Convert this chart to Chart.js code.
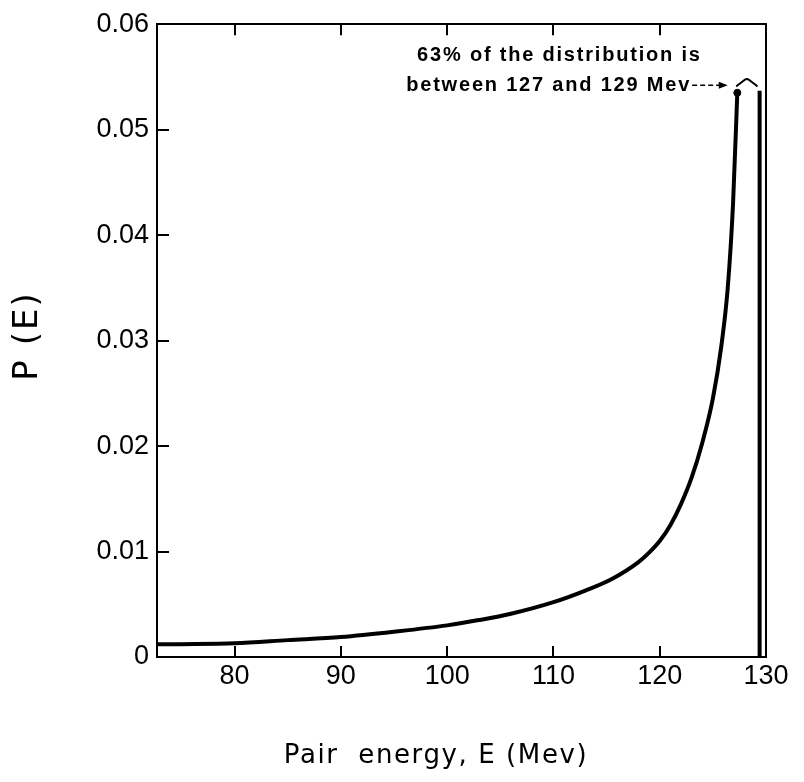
<!DOCTYPE html>
<html>
<head>
<meta charset="utf-8">
<script src="https://cdn.jsdelivr.net/npm/chart.js@4.4.1/dist/chart.umd.min.js"></script>
<style>
  html, body { margin: 0; padding: 0; background: #fff; }
  #wrap { width: 804px; height: 782px; }
</style>
</head>
<body>
<div id="wrap"><canvas id="c" width="804" height="782"></canvas></div>
<script>
// ---- data ----
const energy = [72.7, 75, 80, 85, 90, 95, 100, 103, 106, 110, 113, 115.5, 118, 119, 120, 121, 122, 123, 124, 125, 125.8, 126.4, 126.9, 127.3];
const prob   = [0.0012, 0.00122, 0.0013, 0.0016, 0.0019, 0.0024, 0.0030, 0.0035, 0.0041, 0.0052, 0.0063, 0.0074, 0.0090, 0.0099, 0.0110, 0.0125, 0.0145, 0.0170, 0.0203, 0.0245, 0.0295, 0.0350, 0.0430, 0.0535];
const edgeE = [129.4, 129.4];
const edgeP = [0, 0.0537];
const bracketE = [127.2, 127.7, 128.2, 128.7, 129.2];
const bracketP = [0.0541, 0.0545, 0.0548, 0.0545, 0.0541];
const xTickValues = [80, 90, 100, 110, 120, 130];
const yTickValues = [0, 0.01, 0.02, 0.03, 0.04, 0.05, 0.06];
const xTitle = 'Pair  energy, E (Mev)';
const yTitle = 'P (E)';
const noteLines = ['63% of the distribution is', 'between 127 and 129 Mev'];

const pts = (xs, ys) => xs.map((x, i) => ({x, y: ys[i]}));

const tickFont = {family: "'Liberation Sans', Arial, sans-serif", size: 27};

const decor = {
  id: 'decor',
  afterDraw(chart) {
    const {ctx, chartArea: a, scales: {x, y}} = chart;
    ctx.save();
    ctx.strokeStyle = '#000';
    ctx.lineWidth = 2;
    // inward tick marks
    xTickValues.forEach(v => {
      if (v <= x.min || v >= x.max) return;
      const px = Math.round(x.getPixelForValue(v));
      ctx.beginPath();
      ctx.moveTo(px, a.bottom); ctx.lineTo(px, a.bottom - 11);
      ctx.moveTo(px, a.top); ctx.lineTo(px, a.top + 11);
      ctx.stroke();
    });
    yTickValues.forEach(v => {
      if (v <= y.min || v >= y.max) return;
      const py = Math.round(y.getPixelForValue(v));
      ctx.beginPath();
      ctx.moveTo(a.left, py); ctx.lineTo(a.left + 12, py);
      ctx.stroke();
    });
    // annotation text
    ctx.fillStyle = '#000';
    ctx.font = "bold 20px 'Liberation Sans', Arial, sans-serif";
    ctx.letterSpacing = '1.8px';
    ctx.textAlign = 'right';
    ctx.textBaseline = 'middle';
    ctx.fillText(noteLines[0], x.getPixelForValue(123.95), y.getPixelForValue(0.0570));
    ctx.fillText(noteLines[1], x.getPixelForValue(122.95), y.getPixelForValue(0.0542));
    ctx.letterSpacing = '0px';
    // dashed arrow
    const ay = y.getPixelForValue(0.0542);
    const ax0 = x.getPixelForValue(123.05), ax1 = x.getPixelForValue(126.4);
    ctx.lineWidth = 1.5;
    ctx.setLineDash([5, 3]);
    ctx.beginPath(); ctx.moveTo(ax0, ay); ctx.lineTo(ax1 - 6, ay); ctx.stroke();
    ctx.setLineDash([]);
    ctx.beginPath();
    ctx.moveTo(ax1, ay); ctx.lineTo(ax1 - 9, ay - 3.5); ctx.lineTo(ax1 - 9, ay + 3.5); ctx.closePath();
    ctx.fill();
    // axis titles
    ctx.font = "26px 'DejaVu Sans', sans-serif";
    ctx.letterSpacing = '1.6px';
    ctx.textAlign = 'center';
    ctx.fillText(xTitle, 436, 756);
    ctx.save();
    ctx.translate(28, 336);
    ctx.rotate(-Math.PI / 2);
    ctx.font = "34px 'DejaVu Sans', sans-serif";
    ctx.letterSpacing = '2px';
    ctx.fillText(yTitle, 0, 0);
    ctx.restore();
    ctx.restore();
  }
};

new Chart(document.getElementById('c'), {
  type: 'scatter',
  data: {
    datasets: [
      {data: pts(energy, prob), showLine: true, borderColor: '#000', borderWidth: 4,
       pointRadius: 0, cubicInterpolationMode: 'monotone', fill: false},
      {data: pts(edgeE, edgeP), showLine: true, borderColor: '#000', borderWidth: 4, pointRadius: 0},
      {data: pts(bracketE, bracketP), showLine: true, borderColor: '#000', borderWidth: 2, pointRadius: 0, tension: 0.4},
      {data: [{x: energy[energy.length - 1], y: prob[prob.length - 1]}], pointRadius: 3.5,
       backgroundColor: '#000', borderColor: '#000'}
    ]
  },
  options: {
    responsive: false,
    animation: false,
    layout: {padding: {top: 21, right: 38, left: 0, bottom: 0}},
    plugins: {legend: {display: false}, tooltip: {enabled: false}},
    scales: {
      x: {
        type: 'linear', position: 'bottom', min: 72.7, max: 130,
        afterBuildTicks: s => { s.ticks = xTickValues.map(v => ({value: v})); },
        afterFit: s => { s.height = 125; },
        ticks: {color: '#000', font: tickFont, padding: 3, maxRotation: 0, autoSkip: false,
                callback: v => String(v)},
        grid: {display: false, drawTicks: false},
        border: {display: true, color: '#000', width: 2}
      },
      xTop: {
        type: 'linear', position: 'top', min: 72.7, max: 130,
        afterFit: s => { s.height = 0; },
        ticks: {display: false},
        grid: {display: false, drawTicks: false},
        border: {display: true, color: '#000', width: 2}
      },
      y: {
        type: 'linear', position: 'left', min: 0, max: 0.06,
        afterBuildTicks: s => { s.ticks = yTickValues.map(v => ({value: v})); },
        afterFit: s => { s.width = 157; },
        ticks: {color: '#000', font: tickFont, padding: 8, autoSkip: false,
                callback: v => v === 0 ? '0' : v.toFixed(2)},
        grid: {display: false, drawTicks: false},
        border: {display: true, color: '#000', width: 2}
      },
      yRight: {
        type: 'linear', position: 'right', min: 0, max: 0.06,
        afterFit: s => { s.width = 0; },
        ticks: {display: false},
        grid: {display: false, drawTicks: false},
        border: {display: true, color: '#000', width: 2}
      }
    }
  },
  plugins: [decor]
});
</script>
</body>
</html>
